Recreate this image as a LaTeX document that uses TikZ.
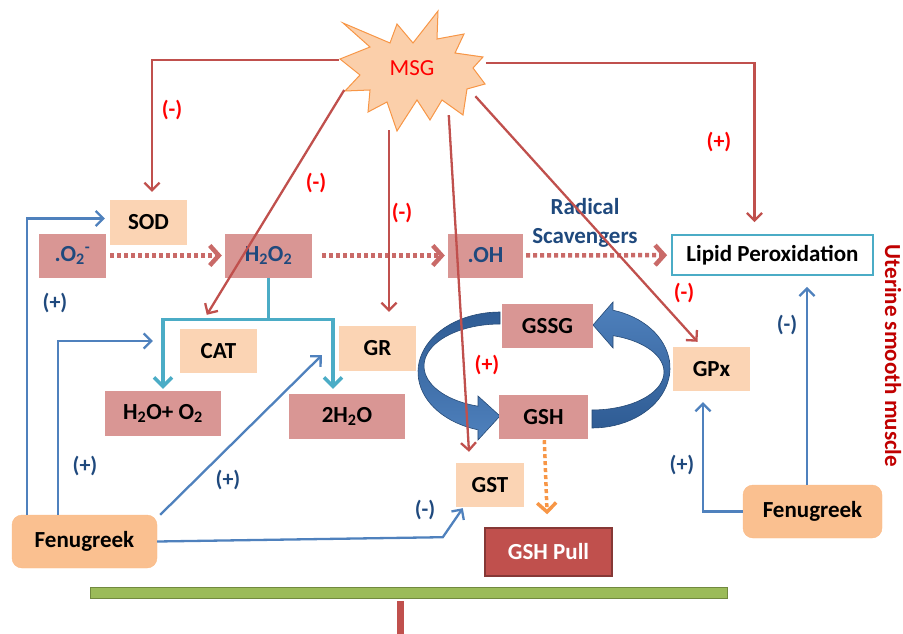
\documentclass[tikz,border=0pt]{standalone}
\usepackage{fontspec}
\setmainfont{Carlito}
\usetikzlibrary{positioning, arrows.meta, calc, shapes.geometric}

\definecolor{peach}{HTML}{FBD4B4}
\definecolor{rose}{HTML}{D99694}
\definecolor{brick}{HTML}{C0504D}
\definecolor{navy}{HTML}{1F497D}
\definecolor{steel}{HTML}{4F81BD}
\definecolor{cycdark}{HTML}{2F5C94}
\definecolor{aqua}{HTML}{4BACC6}
\definecolor{fenu}{HTML}{FAC090}
\definecolor{amber}{HTML}{F79646}
\definecolor{starfill}{HTML}{FBCFAA}
\definecolor{barfill}{HTML}{9BBB59}
\definecolor{bardraw}{HTML}{71893F}
\definecolor{signred}{HTML}{FF0000}
\definecolor{uterred}{HTML}{C00000}

\tikzset{
    cbox/.style={rectangle, inner sep=0pt, font=\fontsize{23}{29}\selectfont\bfseries},
    enzyme/.style={cbox, fill=peach, minimum width=77pt, minimum height=45pt},
    species/.style={cbox, fill=rose, minimum height=44pt},
    plant/.style={cbox, fill=fenu, draw=fenu!85!amber, rounded corners=10pt, minimum width=145pt, minimum height=53pt},
    barb/.style={-{Straight Barb[length=7.5pt,width=15pt]}},
    msgarrow/.style={barb, draw=brick, line width=2.3pt},
    fenarrow/.style={barb, draw=steel, line width=2.3pt},
    radical/.style={draw=brick!85, line width=4.5pt, dash pattern=on 4pt off 3pt, -{Straight Barb[length=9pt,width=20pt]}},
    fork/.style={draw=aqua, line width=3.5pt},
    redsign/.style={font=\fontsize{22}{26}\selectfont\bfseries, text=signred},
    bluesign/.style={font=\fontsize{22}{26}\selectfont\bfseries, text=navy},
    ring/.style={draw=cycdark!80!black, line width=0.6pt}
}

\begin{document}
\begin{tikzpicture}[x=1pt, y=-1pt]
    \useasboundingbox (0,0) rectangle (903,634);

    % GSH / GSSG cycle
    \path[ring, top color=cycdark, bottom color=steel]
        plot[domain=270:105.6, samples=40] ({500+82*cos(\x)}, {372+60*sin(\x)})
        -- (478,440) -- (500,416) -- (478,396)
        -- plot[domain=106.8:270, samples=40] ({500+76*cos(\x)}, {366+42*sin(\x)}) -- cycle;
    \path[ring, top color=steel, bottom color=cycdark]
        plot[domain=90:-74.4, samples=40] ({592+78*cos(\x)}, {368+60*sin(\x)})
        -- (613,302) -- (593,325) -- (613,348)
        -- plot[domain=-73:90, samples=40] ({592+72*cos(\x)}, {372+38*sin(\x)}) -- cycle;

    % MSG burst
    \draw[fill=starfill, draw=amber, line width=1pt]
        (343,23) -- (390,43) -- (397,24) -- (413,43) -- (438,11) -- (437,39)
        -- (464,34) -- (455,53) -- (483,57) -- (473,68) -- (485,84) -- (467,89)
        -- (463,115) -- (442,100) -- (430,120) -- (417,100) -- (397,131) -- (387,102)
        -- (368,112) -- (370,90) -- (345,91) -- (360,75) -- (340,59) -- (370,47) -- cycle;
    \node[ellipse, minimum width=148pt, minimum height=108pt, inner sep=0pt,
          text=signred, font=\fontsize{23}{28}\selectfont] (msg) at (412,68) {MSG};

    % radicals and products
    \node[species, minimum width=67pt, text=navy] (otwo) at (72.5,255.5) {.O\textsubscript{2}\textsuperscript{-}};
    \node[species, minimum width=87pt, text=navy] (hpero) at (268.5,255.5) {H\textsubscript{2}O\textsubscript{2}};
    \node[species, minimum width=75pt, text=navy] (hydrox) at (485.5,255.5) {.OH};
    \node[species, minimum width=116pt, minimum height=45pt] (wox) at (163,413.5) {H\textsubscript{2}O+ O\textsubscript{2}};
    \node[species, minimum width=116pt, minimum height=45pt] (twow) at (347,416.5) {2H\textsubscript{2}O};
    \node[species, minimum width=91pt] (gssg) at (547.5,326) {GSSG};
    \node[species, minimum width=89pt] (gsh) at (543.5,417) {GSH};

    % enzymes
    \node[enzyme] (sod) at (148.5,222.5) {SOD};
    \node[enzyme, minimum height=44pt] (cat) at (218.5,351) {CAT};
    \node[enzyme] (gr) at (377.5,348.5) {GR};
    \node[enzyme, minimum height=44pt] (gpx) at (711.5,369) {GPx};
    \node[enzyme, minimum width=68pt, minimum height=44pt] (gst) at (490,485) {GST};

    \node[cbox, draw=aqua, line width=1.8pt, fill=white, minimum width=201pt, minimum height=40pt] (lipid) at (772.5,255) {Lipid Peroxidation};
    \node[cbox, fill=brick, draw=brick!70!black, line width=1.5pt, text=white, minimum width=127pt, minimum height=48pt] (pull) at (548.5,552) {GSH Pull};
    \node[plant] (fenl) at (84.5,541.5) {Fenugreek};
    \node[plant, minimum width=139pt] (fenr) at (812.5,511.5) {Fenugreek};

    \node[cbox, text=navy, align=center] (scav) at (585,223) {Radical\\Scavengers};
    \node[cbox, text=uterred, rotate=-90] (uter) at (893,356) {Uterine smooth muscle};

    % base bar
    \draw[fill=barfill, draw=bardraw, line width=1pt] (90,587) rectangle (727,598);
    \fill[brick] (397,601) rectangle (404,634);

    % signs
    \foreach \x/\y [count=\i] in {172/110, 316/183, 402/213, 684/293}
        \node[redsign] (minus\i) at (\x,\y) {(-)};
    \node[redsign] (plusmsg) at (719,142) {(+)};
    \node[redsign] (plusgst) at (487,365) {(+)};
    \foreach \x/\y [count=\i] in {55/303, 85/466, 228/480, 682/465}
        \node[bluesign] (plus\i) at (\x,\y) {(+)};
    \node[bluesign] (minusgst) at (425,510) {(-)};
    \node[bluesign] (minuslpo) at (787,325) {(-)};

    % radical chain
    \draw[radical, shorten <=4pt, shorten >=3pt] (otwo) -- (hpero);
    \draw[radical, shorten <=10pt, shorten >=3pt] (hpero) -- (hydrox);
    \draw[radical, shorten <=3pt, shorten >=4pt] (hydrox) -- (lipid);

    % H2O2 split
    \coordinate (split) at ([yshift=-42pt]hpero.south);
    \draw[fork] (hpero.south) -- (split);
    \draw[fork, -{Straight Barb[length=9pt,width=18pt]}, shorten >=2pt] (split) -| (wox.north);
    \draw[fork, -{Straight Barb[length=9pt,width=18pt]}, shorten >=5pt] (split) -| ([xshift=-14pt]twow.north);

    % GSH pull
    \draw[draw=amber, line width=3.5pt, dash pattern=on 4pt off 3pt, -{Straight Barb[length=9pt,width=19pt]},
          shorten <=1pt, shorten >=13pt] (gsh) -- (pull);

    % MSG effects
    \draw[msgarrow] (msg.174) -| ([xshift=3.5pt,yshift=8pt]sod.north);
    \draw[msgarrow] (msg.198) -- ([xshift=27pt,yshift=14pt]cat.north west);
    \coordinate (grtop) at ([xshift=11.5pt,yshift=14pt]gr.north);
    \draw[msgarrow, shorten <=8pt] (grtop |- msg.south) -- (grtop);
    \draw[msgarrow] (msg.-52) -- ([xshift=-21pt,yshift=11pt]gst.north);
    \draw[msgarrow] (msg.-24) -- ([xshift=-14pt,yshift=5pt]gpx.north);
    \draw[msgarrow] (msg.4) -| ([xshift=-18pt,yshift=12pt]lipid.north);

    % fenugreek effects
    \draw[fenarrow] ([xshift=15pt]fenl.north west) |- ([xshift=-5pt,yshift=4pt]sod.west);
    \draw[fenarrow] ([xshift=46pt]fenl.north west) |- ([xshift=-27pt,yshift=10pt]cat.west);
    \draw[fenarrow] ([xshift=3pt]fenl.north east) -- ([xshift=-17pt,yshift=16pt]gr.south west);
    \coordinate (gstbend) at ([xshift=-13pt,yshift=-30pt]gst.south west);
    \draw[fenarrow] (fenl.east) -- (gstbend) -- ([xshift=7pt,yshift=-1pt]gst.south west);
    \draw[fenarrow] (fenr.west) -| ([xshift=-8.5pt,yshift=-11pt]gpx.south);
    \draw[fenarrow, shorten >=11pt] ([xshift=-5.5pt]fenr.north) -- ([xshift=-5.5pt]fenr.north |- lipid.south);
\end{tikzpicture}
\end{document}
